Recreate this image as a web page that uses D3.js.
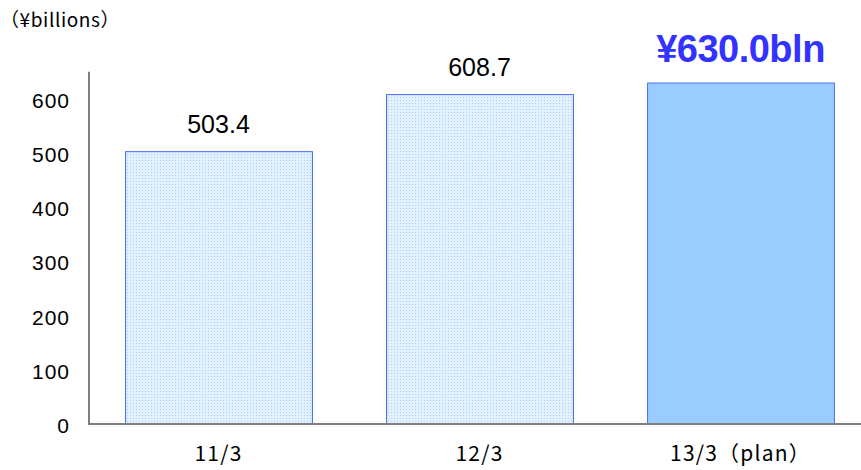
<!DOCTYPE html>
<html><head><meta charset="utf-8">
<script src="https://cdn.jsdelivr.net/npm/d3@7"></script>
<style>body{margin:0;background:#fff}svg{display:block}</style>
</head><body><svg id="c" width="861" height="470"></svg>
<script>
const categories = ["11/3", "12/3", "13/3（plan）"];
const values = [503.4, 608.7, 630.0];
const valueLabels = ["503.4", "608.7", "¥630.0bln"];
const yTicks = [0, 100, 200, 300, 400, 500, 600];
const unitLabel = "（¥billions）";

const svg = d3.select("#c");
const x0 = 89, yBase = 424;
const x = d3.scaleBand().domain(categories).range([x0 - 1, 871]).paddingInner(0.284).paddingOuter(0.142);
const y = d3.scaleLinear().domain([0, 650]).range([yBase, 71.7]);

const defs = svg.append("defs");
const pat = defs.append("pattern").attr("id","dots").attr("patternUnits","userSpaceOnUse").attr("width",3).attr("height",3);
pat.append("rect").attr("width",3).attr("height",3).attr("fill","#e2f0ff");
pat.append("rect").attr("x",1).attr("y",1).attr("width",1).attr("height",1).attr("fill","#a9d2fb");

svg.append("g").selectAll("rect").data(values).join("rect")
  .attr("x",(d,i)=>x(categories[i])+0.5)
  .attr("y",d=>y(d)+0.5)
  .attr("width",x.bandwidth())
  .attr("height",d=>yBase-y(d))
  .attr("fill",(d,i)=>i===2?"#99ccff":"url(#dots)")
  .attr("stroke",(d,i)=>i===2?"#4a6ff0":"#3f6cf5")
  .attr("stroke-width",1);

// axes
const yAxis = d3.axisLeft(y).tickValues(yTicks).tickSize(0).tickPadding(19);
const gy = svg.append("g").attr("transform",`translate(${x0},0)`).call(yAxis);
gy.select(".domain").attr("stroke","#808080").attr("stroke-width",2).attr("d",`M0,${y(650)}V${yBase}`);
gy.selectAll("text").attr("font-family","Liberation Sans, Arial, sans-serif").attr("font-size",21)
  .attr("letter-spacing",1).attr("dy","0.4em").attr("fill","#000");

const xAxis = d3.axisBottom(x).tickSize(0).tickPadding(22);
const gx = svg.append("g").attr("transform",`translate(0,${yBase})`).call(xAxis);
gx.select(".domain").attr("stroke","#808080").attr("stroke-width",2).attr("d",`M${x0-1},0H861`);
gx.selectAll("text").attr("font-family","Noto Sans CJK JP, sans-serif").attr("font-size",21)
  .attr("letter-spacing",1.2).attr("fill","#000");

// value labels
svg.append("g").selectAll("text").data(values).join("text")
  .attr("x",(d,i)=>x(categories[i])+x.bandwidth()/2)
  .attr("y",(d,i)=>i===2?y(d)-20.5:y(d)-18)
  .attr("text-anchor","middle")
  .attr("font-family","Liberation Sans, Arial, sans-serif")
  .attr("font-size",(d,i)=>i===2?38:25)
  .attr("font-weight",(d,i)=>i===2?"bold":"normal")
  .attr("letter-spacing",(d,i)=>i===2?-0.5:0)
  .attr("fill",(d,i)=>i===2?"#3333ff":"#000")
  .text((d,i)=>valueLabels[i]);

svg.append("text").attr("x",0).attr("y",27)
  .attr("font-family","Noto Sans CJK JP, sans-serif").attr("font-size",19).attr("letter-spacing",0.6).attr("fill","#000")
  .text(unitLabel);
</script></body></html>
